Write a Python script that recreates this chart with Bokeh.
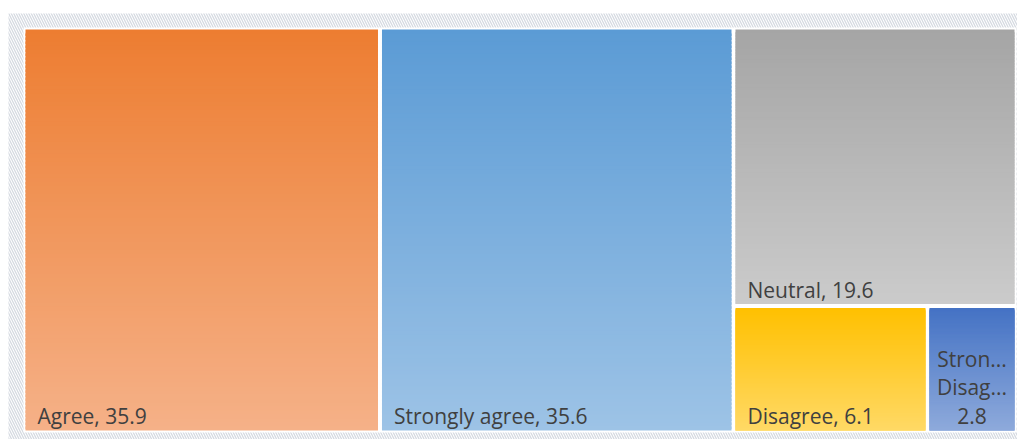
import numpy as np
from bokeh.plotting import figure
from bokeh.models import ColumnDataSource, Range1d
from bokeh.embed import file_html
from bokeh.resources import INLINE
from bokeh.core.properties import value

# ---- data ----
categories = ["Agree", "Strongly agree", "Neutral", "Disagree", "Strongly Disagree"]
values = [35.9, 35.6, 19.6, 6.1, 2.8]
top_colors = ["#ED7D31", "#5B9BD5", "#A5A5A5", "#FFC000", "#4472C4"]
bottom_colors = ["#F5B188", "#9DC3E6", "#CBCBCB", "#FFD966", "#8EAADB"]

# ---- layout constants (page pixel space) ----
W, H = 1017, 439
HATCH_L, HATCH_T = 8, 13
L, T, R, B = 23, 27, 1016, 432
GAP = 2
FONT = "Open Sans"
FS = "21px"
TXT = "#404040"


def hex2rgb(h):
    h = h.lstrip("#")
    return np.array([int(h[i:i + 2], 16) for i in (0, 2, 4)], dtype=float)


def rgb2hex(c):
    return "#%02x%02x%02x" % tuple(int(round(v)) for v in c)


# ---- treemap layout: two columns, then remainder column (top + bottom row) ----
total = sum(values)
width = R - L
height = B - T
boxes = []
x = L
for v in values[:2]:
    w = width * v / total
    boxes.append((x, T, x + w, B))
    x += w
rest = values[2:]
rest_total = sum(rest)
nh = height * rest[0] / rest_total
boxes.append((x, T, R, T + nh))
row_total = sum(rest[1:])
xx = x
for v in rest[1:]:
    w = (R - x) * v / row_total
    boxes.append((xx, T + nh, xx + w, B))
    xx += w

p = figure(width=W, height=H, x_range=Range1d(0, W), y_range=Range1d(H, 0),
           output_backend="svg", toolbar_location=None, min_border=0,
           x_axis_location=None, y_axis_location=None,
           outline_line_color=None, background_fill_color="white",
           border_fill_color="white")
p.grid.visible = False

# hatched chart background
p.quad(left=[HATCH_L], right=[W], top=[HATCH_T], bottom=[H], fill_color="white",
       hatch_pattern="left_diagonal_line", hatch_color="#d5dae1",
       hatch_scale=5, hatch_weight=1.3, line_color=None)
# white plot area
p.quad(left=[L], right=[R], top=[T], bottom=[B], fill_color="white", line_color=None)

# gradient filled rectangles (strips, overlapping to avoid seams)
N = 100
sl, sr, st, sb, sc = [], [], [], [], []
for (x0, y0, x1, y1), c0, c1 in zip(boxes, top_colors, bottom_colors):
    l, r, t, b = x0 + GAP, x1 - GAP, y0 + GAP, y1 - GAP
    a, z = hex2rgb(c0), hex2rgb(c1)
    edges = np.linspace(t, b, N + 1)
    for i in range(N):
        f = (i + 0.5) / N
        sl.append(l)
        sr.append(r)
        st.append(edges[i])
        sb.append(min(edges[i + 1] + 2.5, b))
        sc.append(rgb2hex(a + (z - a) * f))
p.quad(source=ColumnDataSource(dict(left=sl, right=sr, top=st, bottom=sb, color=sc)),
       left="left", right="right", top="top", bottom="bottom",
       fill_color="color", line_color=None)

# labels
lx, ly, lt, la = [], [], [], []
for (x0, y0, x1, y1), cat, v in zip(boxes, categories, values):
    l, r, b = x0 + GAP, x1 - GAP, y1 - GAP
    if r - l > 150:
        lx.append(l + 12)
        ly.append(b - (15 if b > B - 10 else 14))
        lt.append(f"{cat}, {v}")
        la.append("left")
    else:
        words = [w if len(w) <= 5 else w[:5] + "..." for w in cat.split()]
        lines = words + [str(v)]
        n = len(lines)
        for k, line in enumerate(lines):
            lx.append((l + r) / 2)
            ly.append(b - 15 - (n - 1 - k) * 28.5)
            lt.append(line)
            la.append("center")
p.text(source=ColumnDataSource(dict(x=lx, y=ly, text=lt, align=la)),
       x="x", y="y", text="text", text_align="align", text_baseline="alphabetic",
       text_font=value(FONT), text_font_size=FS, text_color=TXT)

open("out.html", "w").write(file_html(p, INLINE))
